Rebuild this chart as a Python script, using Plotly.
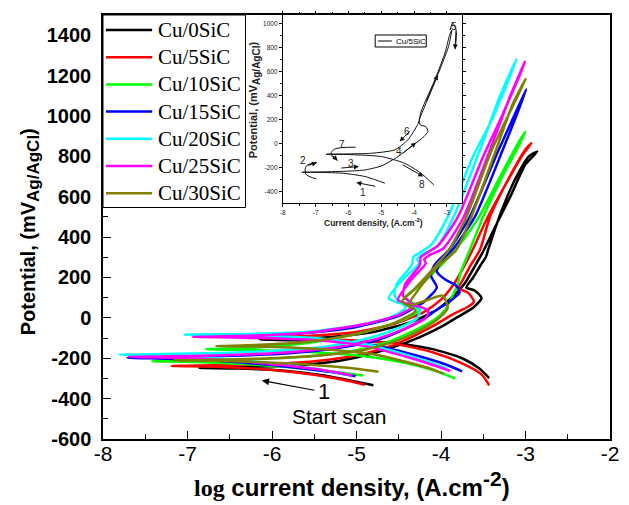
import plotly.graph_objects as go

# ---------------- series (log i in A/cm2, potential in mV vs Ag/AgCl) ----------------
labels = ["Cu/0SiC", "Cu/5SiC", "Cu/10SiC", "Cu/15SiC", "Cu/20SiC", "Cu/25SiC", "Cu/30SiC"]
colors = ["#000000", "#ff0000", "#00ff00", "#0000ff", "#00ffff", "#ff00ff", "#808000"]

cu0_logi = [-4.80, -5.05, -5.40, -5.85, -6.40, -6.86, -6.40, -5.90, -5.45, -5.00, -4.60, -4.25,
            -4.00, -3.80, -3.62, -3.52, -3.60, -3.70, -3.62, -3.53, -3.47, -3.44, -3.31, -3.13,
            -2.96, -2.86, -3.00, -3.18, -3.36, -3.50, -3.58, -3.72, -3.85, -4.05, -4.35, -4.80,
            -5.30, -5.80, -6.15, -5.60, -5.00, -4.55, -4.10, -3.75, -3.55, -3.43]
cu0_E = [-334, -312, -284, -262, -251, -248, -244, -238, -226, -196, -150, -95,
         -45, 5, 50, 98, 135, 150, 200, 262, 300, 340, 501, 680,
         800, 824, 760, 600, 450, 330, 270, 170, 110, 40, -20, -70,
         -95, -105, -108, -112, -116, -125, -155, -200, -250, -298]

cu5_logi = [-4.90, -5.15, -5.50, -6.00, -6.60, -7.19, -6.70, -6.10, -5.50, -5.00, -4.60, -4.30,
            -4.05, -3.85, -3.68, -3.61, -3.68, -3.79, -3.74, -3.66, -3.54, -3.42, -3.20, -2.99,
            -2.93, -3.03, -3.25, -3.47, -3.60, -3.72, -3.86, -4.00, -4.20, -4.55, -5.00, -5.60,
            -6.40, -5.70, -5.10, -4.55, -4.10, -3.75, -3.52, -3.43]
cu5_E = [-331, -308, -282, -258, -243, -238, -235, -230, -215, -185, -140, -85,
         -30, 20, 55, 80, 125, 146, 190, 253, 336, 501, 690, 840,
         865, 810, 650, 480, 360, 260, 160, 90, 30, -30, -70, -90,
         -98, -103, -110, -128, -170, -225, -280, -334]

cu10_logi = [-4.92, -5.25, -5.70, -6.30, -6.90, -7.42, -6.90, -6.20, -5.50, -5.00, -4.60, -4.30,
             -4.08, -3.95, -3.87, -3.80, -3.77, -3.66, -3.50, -3.25, -3.07, -3.00, -3.08, -3.30,
             -3.55, -3.75, -4.00, -4.25, -4.43, -4.30, -4.25, -4.45, -4.90, -5.50, -6.20, -6.78,
             -6.20, -5.50, -4.90, -4.40, -4.05, -3.83]
cu10_E = [-285, -268, -248, -230, -219, -215, -212, -205, -188, -160, -115, -60,
          -10, 40, 104, 170, 222, 336, 501, 720, 860, 923, 870, 700,
          500, 380, 260, 160, 100, 65, 40, -10, -70, -120, -148, -155,
          -160, -170, -190, -225, -265, -301]

cu15_logi = [-5.01, -5.30, -5.80, -6.40, -7.10, -7.71, -7.20, -6.50, -5.80, -5.20, -4.75, -4.45,
             -4.22, -4.05, -3.90, -3.78, -3.82, -3.95, -4.05, -4.00, -3.85, -3.60, -3.27, -3.10,
             -2.99, -3.07, -3.33, -3.66, -3.90, -4.08, -4.12, -4.05, -4.20, -4.50, -5.00, -5.60,
             -6.10, -6.50, -6.00, -5.40, -4.80, -4.30, -3.95, -3.75]
cu15_E = [-289, -268, -243, -220, -204, -197, -194, -188, -175, -148, -110, -60,
          -10, 40, 80, 125, 160, 190, 230, 280, 345, 500, 831, 1010,
          1133, 1060, 820, 500, 340, 260, 210, 150, 80, 10, -45, -75,
          -87, -90, -95, -108, -135, -185, -230, -265]

cu20_logi = [-5.10, -5.40, -5.90, -6.50, -7.20, -7.81, -7.30, -6.60, -5.90, -5.30, -4.85, -4.50,
             -4.28, -4.25, -4.35, -4.62, -4.45, -4.26, -4.28, -4.22, -4.05, -3.85, -3.54, -3.30,
             -3.106, -3.18, -3.40, -3.62, -3.92, -4.12, -4.33, -4.34, -4.52, -4.55, -4.42, -4.59,
             -4.98, -5.56, -6.30, -7.03, -6.30, -5.50, -4.90, -4.40, -4.10, -3.93]
cu20_E = [-282, -258, -230, -205, -188, -182, -179, -174, -162, -138, -100, -50,
          0, 35, 55, 96, 190, 271, 292, 315, 352, 501, 831, 1100,
          1282, 1200, 980, 800, 500, 360, 300, 265, 170, 110, 50, 5,
          -36, -69, -80, -83, -88, -100, -130, -185, -225, -252]

cu25_logi = [-5.05, -5.35, -5.85, -6.45, -7.10, -7.69, -7.20, -6.50, -5.80, -5.20, -4.75, -4.42,
             -4.18, -4.15, -4.28, -4.51, -4.35, -4.18, -4.20, -4.13, -3.97, -3.73, -3.42, -3.18,
             -3.005, -3.08, -3.30, -3.50, -3.80, -4.03, -4.24, -4.25, -4.42, -4.45, -4.32, -4.50,
             -4.90, -5.50, -6.20, -6.94, -6.20, -5.50, -4.90, -4.35, -4.05, -3.89]
cu25_E = [-285, -262, -235, -212, -198, -193, -190, -184, -170, -143, -103, -52,
          0, 35, 60, 88, 190, 270, 290, 312, 345, 501, 831, 1100,
          1270, 1190, 980, 800, 500, 360, 300, 262, 170, 110, 60, 15,
          -30, -70, -88, -94, -98, -110, -140, -200, -240, -263]

cu30_logi = [-4.74, -5.05, -5.50, -6.10, -6.65, -7.15, -6.65, -6.00, -5.40, -4.90, -4.50, -4.22,
             -4.02, -3.92, -3.98, -4.15, -4.39, -4.25, -4.05, -3.82, -3.64, -3.35, -3.15, -3.00,
             -3.08, -3.40, -3.70, -3.90, -4.12, -4.32, -4.46, -4.30, -4.55, -5.00, -5.60, -6.20,
             -6.66, -6.10, -5.40, -4.80, -4.35, -4.10, -3.97]
cu30_E = [-267, -250, -233, -220, -213, -210, -207, -200, -185, -158, -110, -55,
          0, 50, 110, 90, 60, 150, 250, 336, 501, 831, 1060, 1183,
          1110, 830, 500, 340, 230, 140, 80, 35, -25, -80, -120, -135,
          -140, -143, -155, -180, -225, -255, -276]

series_logi = [cu0_logi, cu5_logi, cu10_logi, cu15_logi, cu20_logi, cu25_logi, cu30_logi]
series_E = [cu0_E, cu5_E, cu10_E, cu15_E, cu20_E, cu25_E, cu30_E]

x_ticks = [-8, -7, -6, -5, -4, -3, -2]
y_ticks = [-600, -400, -200, 0, 200, 400, 600, 800, 1000, 1200, 1400]

# start-of-scan marker on the main chart
start_arrow_tail = (-5.48, -360)
start_arrow_head = (-6.12, -310)
start_num_pos = (-5.38, -367)
start_text_pos = (-5.20, -491)

# ---------------- inset: cyclic scan of Cu/5SiC with numbered steps ----------------
inset_logi = [-4.89, -5.20, -5.49, -5.85, -6.18, -6.80, -7.42, -6.80, -6.00, -5.49, -4.99, -4.49,
              -4.09, -3.70, -3.58, -3.64, -3.81, -3.84, -3.72, -3.30, -2.95, -2.85, -2.92, -3.05,
              -3.35, -3.78, -3.87, -4.19, -4.59, -5.29, -6.08, -6.68, -5.98, -4.99, -4.29, -3.79,
              -3.40]
inset_E = [-330, -300, -275, -258, -247, -241, -239, -236, -230, -220, -186, -109,
           -26, 57, 99, 140, 155, 196, 279, 556, 806, 944, 900, 760,
           540, 270, 169, 30, -53, -81, -87, -89, -92, -109, -164, -247,
           -344]
inset_x_ticks = [-8, -7, -6, -5, -4, -3]
inset_y_ticks = [-400, -200, 0, 200, 400, 600, 800, 1000]

step_labels = ["1", "2", "3", "4", "5", "6", "7", "8"]
step_logi = [-5.55, -7.39, -5.93, -4.47, -2.78, -4.22, -6.20, -3.75]
step_E = [-408, -142, -164, -67, 972, 99, -12, -344]

# straight direction arrows (tail -> head)
arrow_tail_logi = [-5.14, -6.26, -4.37, -3.64, -4.09, -4.39]
arrow_tail_E = [-358, -205, -87, 340, 113, -170]
arrow_head_logi = [-5.76, -5.68, -3.94, -3.28, -4.44, -3.72]
arrow_head_E = [-325, -192, 7, 570, 16, -275]

# curved turn-around arrows
hook2_logi = [-6.98, -7.30, -7.28, -6.96]
hook2_E = [-294, -253, -186, -159]
hook7_logi = [-5.78, -6.43, -6.53, -6.33]
hook7_E = [-31, -48, -87, -142]
hook5_logi = [-2.90, -2.82, -2.72, -2.75]
hook5_E = [944, 1000, 944, 784]

# ---------------- figure geometry ----------------
W, H = 629, 505
ML, MR, MT, MB = 103, 10, 15, 66
PW, PH = W - ML - MR, H - MT - MB


def fx(px):
    return (px - ML) / PW


def fy(py):
    return (H - MB - py) / PH


SANS = "Liberation Sans"
SERIF = "Liberation Serif"

fig = go.Figure()

for lx, ey, name, col in zip(series_logi, series_E, labels, colors):
    fig.add_trace(go.Scatter(
        x=lx, y=ey, mode="lines", name=name, showlegend=False,
        line=dict(color=col, width=2.5, shape="spline", smoothing=0.6),
        xaxis="x", yaxis="y", hoverinfo="skip"))

fig.add_trace(go.Scatter(
    x=inset_logi, y=inset_E, mode="lines", showlegend=False,
    line=dict(color="#111111", width=1, shape="spline", smoothing=0.6),
    xaxis="x2", yaxis="y2", hoverinfo="skip"))

for hx, hy in [(hook2_logi, hook2_E), (hook7_logi, hook7_E), (hook5_logi, hook5_E)]:
    fig.add_trace(go.Scatter(
        x=hx, y=hy, mode="lines", showlegend=False,
        line=dict(color="#111111", width=1, shape="spline", smoothing=1.0),
        xaxis="x2", yaxis="y2", hoverinfo="skip"))

annotations = []
shapes = []

# axis titles
annotations.append(dict(
    xref="paper", yref="paper", x=fx(29), y=fy(232), xanchor="center", yanchor="middle",
    textangle=-90, showarrow=False,
    text="<b>Potential, (mV<sub><span style='font-size:17px'>Ag/AgCl</span></sub>)</b>",
    font=dict(family=SANS, size=20, color="black")))
annotations.append(dict(
    xref="paper", yref="paper", x=fx(356), y=fy(484), xanchor="center", yanchor="middle",
    showarrow=False,
    text="<b><span style=\"font-family:'Liberation Serif'\">log</span> current density, "
         "(A.cm<sup><span style='font-size:21px'>-2</span></sup>)</b>",
    font=dict(family=SANS, size=24, color="black")))

# start-of-scan marker
annotations.append(dict(
    xref="x", yref="y", axref="x", ayref="y",
    x=start_arrow_head[0], y=start_arrow_head[1], ax=start_arrow_tail[0], ay=start_arrow_tail[1],
    text="", showarrow=True, arrowhead=2, arrowsize=1.2, arrowwidth=1.2, arrowcolor="black"))
annotations.append(dict(
    xref="x", yref="y", x=start_num_pos[0], y=start_num_pos[1], text="1", showarrow=False,
    font=dict(family=SANS, size=22, color="black")))
annotations.append(dict(
    xref="x", yref="y", x=start_text_pos[0], y=start_text_pos[1], text="Start scan",
    showarrow=False, font=dict(family=SANS, size=21, color="black")))

# legend drawn as a framed key in the upper-left corner
shapes.append(dict(type="rect", xref="paper", yref="paper",
                   x0=fx(103), x1=fx(248), y0=fy(207.5), y1=fy(15),
                   line=dict(color="black", width=1), fillcolor="white", layer="above"))
for i, (name, col) in enumerate(zip(labels, colors)):
    row = 30 + 27.2 * i
    shapes.append(dict(type="line", xref="paper", yref="paper",
                       x0=fx(106), x1=fx(153), y0=fy(row), y1=fy(row),
                       line=dict(color=col, width=2.5), layer="above"))
    annotations.append(dict(xref="paper", yref="paper", x=fx(157), y=fy(row),
                            xanchor="left", yanchor="middle", showarrow=False, text=name,
                            font=dict(family=SERIF, size=21, color="black")))

# inset texts and arrows
annotations.append(dict(
    xref="paper", yref="paper", x=fx(257), y=fy(100), xanchor="center", yanchor="middle",
    textangle=-90, showarrow=False,
    text="<b>Potential, (mV<sub><span style='font-size:10px'>Ag/AgCl</span></sub>)</b>",
    font=dict(family=SANS, size=11, color="#222222")))
annotations.append(dict(
    xref="paper", yref="paper", x=fx(378), y=fy(222), xanchor="center", yanchor="middle",
    showarrow=False, text="<b>Current density, (A.cm<sup>-2</sup>)</b>",
    font=dict(family=SANS, size=8.5, color="#222222")))

for lab, lx, ey in zip(step_labels, step_logi, step_E):
    annotations.append(dict(xref="x2", yref="y2", x=lx, y=ey, text=lab, showarrow=False,
                            font=dict(family=SANS, size=10, color="#222222")))

for tx, ty, hx, hy in zip(arrow_tail_logi, arrow_tail_E, arrow_head_logi, arrow_head_E):
    annotations.append(dict(xref="x2", yref="y2", axref="x2", ayref="y2",
                            x=hx, y=hy, ax=tx, ay=ty, text="", showarrow=True,
                            arrowhead=2, arrowsize=1, arrowwidth=1, arrowcolor="#111111"))
for hx, hy in [(hook2_logi, hook2_E), (hook7_logi, hook7_E), (hook5_logi, hook5_E)]:
    annotations.append(dict(xref="x2", yref="y2", axref="x2", ayref="y2",
                            x=hx[-1], y=hy[-1], ax=hx[-2], ay=hy[-2], text="", showarrow=True,
                            arrowhead=2, arrowsize=1, arrowwidth=1, arrowcolor="#111111"))

# inset key
shapes.append(dict(type="rect", xref="paper", yref="paper",
                   x0=fx(380), x1=fx(432), y0=fy(47), y1=fy(35),
                   line=dict(color="black", width=1), fillcolor="white"))
shapes.append(dict(type="line", xref="paper", yref="paper",
                   x0=fx(383), x1=fx(397), y0=fy(41), y1=fy(41),
                   line=dict(color="black", width=1)))
annotations.append(dict(xref="paper", yref="paper", x=fx(399), y=fy(41), xanchor="left",
                        yanchor="middle", showarrow=False, text=labels[1],
                        font=dict(family=SANS, size=8, color="black")))

fig.update_layout(
    width=W, height=H,
    margin=dict(l=ML, r=MR, t=MT, b=MB, pad=0),
    paper_bgcolor="white", plot_bgcolor="white",
    showlegend=False,
    xaxis=dict(
        range=[-8, -2], tickmode="array", tickvals=x_ticks, ticktext=[str(v) for v in x_ticks],
        ticks="inside", ticklen=8, tickwidth=1.2, tickcolor="black",
        minor=dict(tickvals=[v + 0.5 for v in x_ticks[:-1]], ticks="inside", ticklen=5,
                   tickwidth=1.2, tickcolor="black"),
        showline=True, linecolor="black", linewidth=1.5, mirror=True,
        showgrid=False, zeroline=False, ticklabelstandoff=-5,
        tickfont=dict(family=SANS, size=21, color="black")),
    yaxis=dict(
        range=[-600, 1500], tickmode="array", tickvals=y_ticks, ticktext=[str(v) for v in y_ticks],
        ticks="inside", ticklen=8, tickwidth=1.2, tickcolor="black",
        minor=dict(tickvals=[v + 100 for v in y_ticks], ticks="inside", ticklen=5,
                   tickwidth=1.2, tickcolor="black"),
        showline=True, linecolor="black", linewidth=1.5, mirror=True,
        showgrid=False, zeroline=False, ticklabelstandoff=6,
        tickfont=dict(family=SANS, size=20, color="black", weight="bold")),
    xaxis2=dict(
        domain=[fx(286), fx(468)], anchor="y2", range=[-8, -2.55],
        tickmode="array", tickvals=inset_x_ticks, ticktext=[str(v) for v in inset_x_ticks],
        ticks="outside", ticklen=3, tickwidth=1, tickcolor="black",
        minor=dict(tickvals=[v + 0.5 for v in inset_x_ticks], ticks="outside", ticklen=2,
                   tickcolor="black"),
        showline=True, linecolor="black", linewidth=1, mirror="ticks",
        showgrid=False, zeroline=False,
        tickfont=dict(family=SANS, size=6.5, color="#222222")),
    yaxis2=dict(
        domain=[fy(203), fy(15)], anchor="x2", range=[-495, 1069],
        tickmode="array", tickvals=inset_y_ticks, ticktext=[str(v) for v in inset_y_ticks],
        ticks="outside", ticklen=3, tickwidth=1, tickcolor="black",
        minor=dict(tickvals=[v + 100 for v in inset_y_ticks[:-1]], ticks="outside", ticklen=2,
                   tickcolor="black"),
        showline=True, linecolor="black", linewidth=1, mirror="ticks",
        showgrid=False, zeroline=False,
        tickfont=dict(family=SANS, size=6.5, color="#222222")),
    annotations=annotations,
    shapes=shapes,
)

fig.write_html("out.html")
